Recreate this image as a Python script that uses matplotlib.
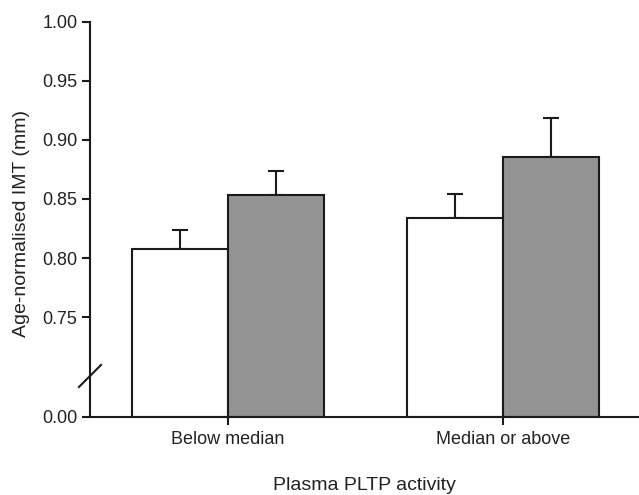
import matplotlib
matplotlib.use("Agg")
import matplotlib.pyplot as plt
import numpy as np

groups = ["Below median", "Median or above"]
white_means = [0.8076, 0.8335]
white_err = [0.016, 0.021]
grey_means = [0.8531, 0.8857]
grey_err = [0.0208, 0.0331]
y_ticks = [0.00, 0.75, 0.80, 0.85, 0.90, 0.95, 1.00]

plt.rcParams["font.family"] = ["Liberation Sans", "DejaVu Sans"]

# compress the 0 - 0.75 range so the axis looks broken
BREAK = 0.75
K = 0.1126


def forward(y):
    y = np.asarray(y, dtype=float)
    return np.where(y >= BREAK, y, BREAK - (BREAK - y) * K)


def inverse(t):
    t = np.asarray(t, dtype=float)
    return np.where(t >= BREAK, t, BREAK - (BREAK - t) / K)


fig = plt.figure(figsize=(6.39, 4.95), dpi=100)
ax = fig.add_axes([0.1408, 0.1576, 0.8592, 0.7986])
ax.set_yscale("function", functions=(forward, inverse))

x = np.arange(len(groups))
width = 0.349
lw = 1.5

ax.bar(x - width / 2, white_means, width, color="white", edgecolor="#1a1a1a",
       linewidth=lw, zorder=2)
ax.bar(x + width / 2, grey_means, width, color="#939393", edgecolor="#1a1a1a",
       linewidth=lw, zorder=2)

ax.errorbar(x - width / 2, white_means, yerr=[np.zeros(2), white_err], fmt="none",
            ecolor="#1a1a1a", elinewidth=lw, capsize=6, capthick=lw, zorder=1)
ax.errorbar(x + width / 2, grey_means, yerr=[np.zeros(2), grey_err], fmt="none",
            ecolor="#1a1a1a", elinewidth=lw, capsize=6, capthick=lw, zorder=1)

ax.set_xlim(-0.502, 1.4945)
ax.set_ylim(0, 1.0)
ax.set_yticks(y_ticks)
ax.set_yticklabels([f"{v:.2f}" for v in y_ticks])
ax.set_xticks(x)
ax.set_xticklabels(groups)

ax.spines["top"].set_visible(False)
ax.spines["right"].set_visible(False)
for s in ("left", "bottom"):
    ax.spines[s].set_linewidth(lw)
    ax.spines[s].set_color("#1a1a1a")

ax.tick_params(axis="both", direction="out", length=6, width=lw, colors="#1a1a1a",
               labelsize=13, labelcolor="#222222")
ax.tick_params(axis="y", pad=3)
ax.tick_params(axis="x", pad=4)

ax.set_ylabel("Age-normalised IMT (mm)", fontsize=14, color="#222222",
              va="center")
ax.yaxis.set_label_coords(-0.124, 0.49)
ax.set_xlabel("Plasma PLTP activity", fontsize=14, color="#222222", va="center")
ax.xaxis.set_label_coords(0.5, -0.1745)

# break mark on the y axis
bx = [-11 / 549, 11 / 549]
by = [(41 - 11) / 395.3, (41 + 11) / 395.3]
ax.plot(bx, by, transform=ax.transAxes, color="#1a1a1a", linewidth=lw, clip_on=False)

fig.savefig("out.png", dpi=100)
